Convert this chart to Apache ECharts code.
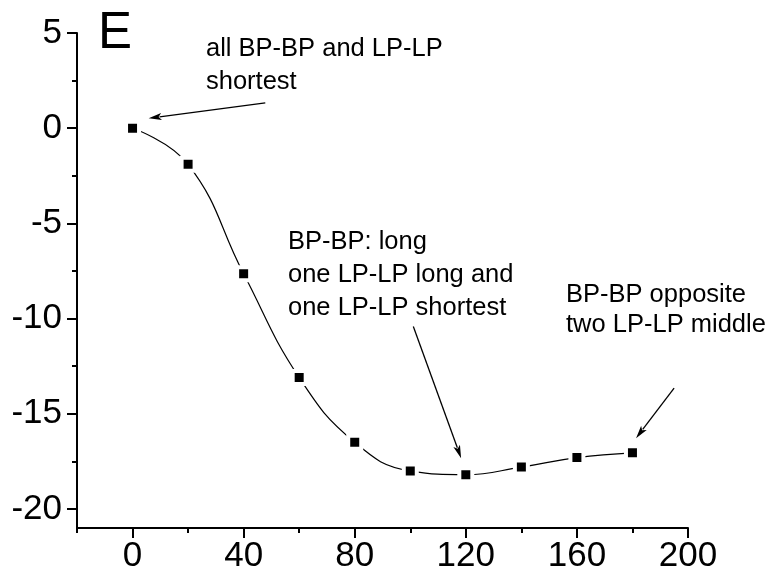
<!DOCTYPE html>
<html>
<head>
<meta charset="utf-8">
<script src="https://cdn.jsdelivr.net/npm/echarts@6/dist/echarts.min.js"></script>
<style>
  html, body { margin: 0; padding: 0; background: #fff; }
  #chart { width: 771px; height: 578px; }
</style>
</head>
<body>
<div id="chart"></div>
<script>
// Relative energy versus torsion angle
const angles   = [0, 20, 40, 60, 80, 100, 120, 140, 160, 180];
const energies = [0, -1.9, -7.65, -13.1, -16.5, -18.0, -18.2, -17.8, -17.3, -17.05];

// Axis ticks
const xMajorTicks = [0, 40, 80, 120, 160, 200];
const xMinorTicks = [-20, 20, 60, 100, 140, 180];
const yMajorTicks = [5, 0, -5, -10, -15, -20];
const yMinorTicks = [2.5, -2.5, -7.5, -12.5, -17.5];

// Callout texts
const noteTexts = [
  'all BP-BP and LP-LP\nshortest',
  'BP-BP: long\none LP-LP long and\none LP-LP shortest',
  'BP-BP opposite\ntwo LP-LP middle'
];
const panelLetter = 'E';

const FONT = '"Liberation Sans", Arial, Helvetica, sans-serif';
const INK = '#000';

const chart = echarts.init(document.getElementById('chart'), null, { renderer: 'canvas' });

const xBase = {
  type: 'value', min: -20, max: 200, position: 'bottom',
  splitLine: { show: false }
};
const yBase = {
  type: 'value', min: -21, max: 5, position: 'left',
  splitLine: { show: false }
};

chart.setOption({
  animation: false,
  backgroundColor: '#fff',
  grid: { left: 77, right: 83, top: 33, bottom: 50, containLabel: false },
  xAxis: [
    Object.assign({}, xBase, {
      axisLine: { onZero: false, lineStyle: { color: INK, width: 2 } },
      axisTick: { customValues: xMajorTicks, length: 10, inside: false, lineStyle: { color: INK, width: 2 } },
      axisLabel: { customValues: xMajorTicks, margin: 11, color: INK, fontSize: 35, fontFamily: FONT }
    }),
    Object.assign({}, xBase, {
      axisLine: { show: false, onZero: false },
      axisTick: { customValues: xMinorTicks, length: 5, inside: false, lineStyle: { color: INK, width: 2 } },
      axisLabel: { show: false }
    })
  ],
  yAxis: [
    Object.assign({}, yBase, {
      axisLine: { onZero: false, lineStyle: { color: INK, width: 2 } },
      axisTick: { customValues: yMajorTicks, length: 10, inside: false, lineStyle: { color: INK, width: 2 } },
      axisLabel: { customValues: yMajorTicks, margin: 15, color: INK, fontSize: 35, fontFamily: FONT }
    }),
    Object.assign({}, yBase, {
      axisLine: { show: false, onZero: false },
      axisTick: { customValues: yMinorTicks, length: 5, inside: false, lineStyle: { color: INK, width: 2 } },
      axisLabel: { show: false }
    })
  ],
  series: [{
    type: 'line',
    xAxisIndex: 0,
    yAxisIndex: 0,
    data: angles.map((a, i) => [a, energies[i]]),
    smooth: 0.45,
    symbol: 'rect',
    symbolSize: 13,
    lineStyle: { color: INK, width: 1.2 },
    itemStyle: { color: INK, borderColor: '#fff', borderWidth: 4 },
    emphasis: { disabled: true },
    z: 3
  }]
});

// Callout arrows in data coordinates (tail, head)
const arrows = [
  { from: [47.8, 1.33],    to: [5.8, 0.52] },
  { from: [101.1, -10.42], to: [118.3, -17.33] },
  { from: [195.0, -13.65], to: [181.3, -16.28] }
];
const notePlaces = [
  { x: 206, y: 32, lh: 33 },
  { x: 288, y: 225, lh: 33 },
  { x: 566, y: 280, lh: 30 }
];

function arrowShapes(a) {
  const p0 = chart.convertToPixel({ xAxisIndex: 0, yAxisIndex: 0 }, a.from);
  const p1 = chart.convertToPixel({ xAxisIndex: 0, yAxisIndex: 0 }, a.to);
  const dx = p1[0] - p0[0], dy = p1[1] - p0[1];
  const len = Math.hypot(dx, dy);
  const ux = dx / len, uy = dy / len;
  const headLen = 13, halfW = 3.5;
  const bx = p1[0] - ux * headLen, by = p1[1] - uy * headLen;
  return [
    { type: 'line', shape: { x1: p0[0], y1: p0[1], x2: bx + ux * 2, y2: by + uy * 2 },
      style: { stroke: INK, lineWidth: 1.3 }, z: 10 },
    { type: 'polygon', shape: { points: [
        [p1[0], p1[1]],
        [bx - uy * halfW, by + ux * halfW],
        [bx + ux * 3, by + uy * 3],
        [bx + uy * halfW, by - ux * halfW]
      ] }, style: { fill: INK }, z: 10 }
  ];
}

const graphics = [];
arrows.forEach(a => graphics.push(...arrowShapes(a)));
noteTexts.forEach((t, i) => {
  const p = notePlaces[i];
  graphics.push({
    type: 'text', left: p.x, top: p.y, z: 10,
    style: { text: t, fill: INK, font: '25.5px ' + FONT, lineHeight: p.lh }
  });
});
graphics.push({
  type: 'text', left: 98, top: 8, z: 10,
  style: { text: panelLetter, fill: INK, font: '51px ' + FONT }
});

chart.setOption({ graphic: graphics });
</script>
</body>
</html>
